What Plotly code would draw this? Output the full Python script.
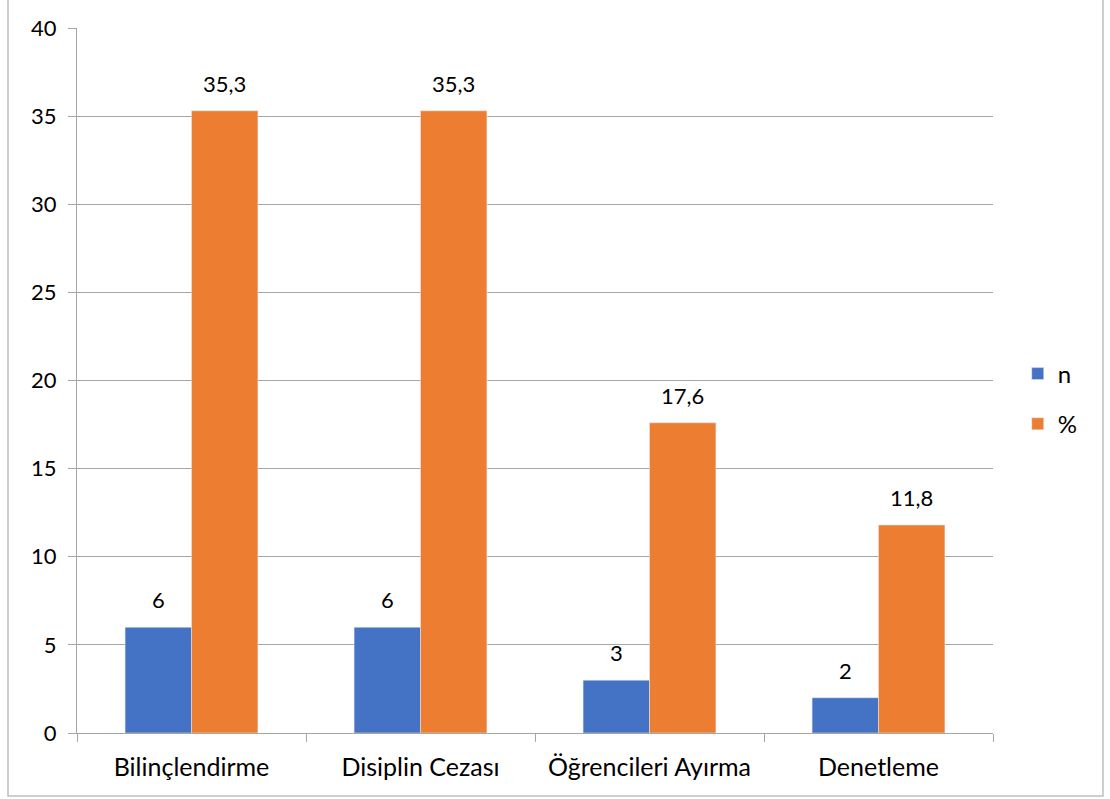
import plotly.graph_objects as go

categories = ["Bilinçlendirme", "Disiplin Cezası", "Öğrencileri Ayırma", "Denetleme"]
n_values = [6, 6, 3, 2]
pct_values = [35.3, 35.3, 17.6, 11.8]
y_ticks = [0, 5, 10, 15, 20, 25, 30, 35, 40]

BLUE = "#4472C4"
ORANGE = "#ED7D31"
GRID = "#A6A6A6"
FONT = "Lato"
FS = 22
FS_CAT = 25
FS_LEG = 24

W, H = 1110, 799
M_L, M_R, M_T, M_B = 77, 117, 28, 66
plot_w = W - M_L - M_R
plot_h = H - M_T - M_B

fig = go.Figure()
fig.add_trace(go.Bar(name="n", x=categories, y=n_values, marker_color=BLUE,
                     legendgroup="n"))
fig.add_trace(go.Bar(name="%", x=categories, y=pct_values, marker_color=ORANGE,
                     legendgroup="p"))

# value labels floating above each bar
half_bar = plot_w / 4 * (1 - 0.42) / 2 / 2
for vals, shift in ((n_values, -half_bar), (pct_values, half_bar)):
    for c, v in zip(categories, vals):
        txt = f"{v:g}".replace(".", ",")
        fig.add_annotation(x=c, y=v, text=txt, showarrow=False, xshift=shift,
                           yanchor="bottom", yshift=12,
                           font=dict(family=FONT, size=FS, color="#000000"))

# outer chart frame
def px_x(p):
    return (p - M_L) / plot_w

def px_y(p):
    return (H - M_B - p) / plot_h

fig.add_shape(type="rect", xref="paper", yref="paper",
              x0=px_x(8), x1=px_x(1103), y0=px_y(796), y1=px_y(-3),
              line=dict(color="#BFBFBF", width=1.5), fillcolor="rgba(0,0,0,0)")

fig.update_layout(
    width=W, height=H,
    margin=dict(l=M_L, r=M_R, t=M_T, b=M_B),
    paper_bgcolor="white", plot_bgcolor="white",
    barmode="group", bargap=0.42, bargroupgap=0,
    separators=",.",
    font=dict(family=FONT, size=FS, color="#000000"),
    legend=dict(x=1.027, y=px_y(399), xanchor="left", yanchor="middle",
                tracegroupgap=16, font=dict(family=FONT, size=FS_LEG, color="#000000"),
                itemwidth=30),
    showlegend=True,
)
fig.update_xaxes(showline=True, linecolor=GRID, linewidth=1,
                 ticks="outside", tickson="boundaries", ticklen=8,
                 tickcolor=GRID, showgrid=False, ticklabelstandoff=12,
                 tickfont=dict(family=FONT, size=FS_CAT, color="#000000"))
fig.update_yaxes(range=[0, 40], tickvals=y_ticks, showline=True,
                 linecolor=GRID, linewidth=1, ticks="outside", ticklen=8,
                 tickcolor=GRID, showgrid=True, gridcolor=GRID, gridwidth=1,
                 zeroline=False, ticklabelstandoff=7,
                 tickfont=dict(family=FONT, size=FS, color="#000000"))

fig.write_html("out.html")
